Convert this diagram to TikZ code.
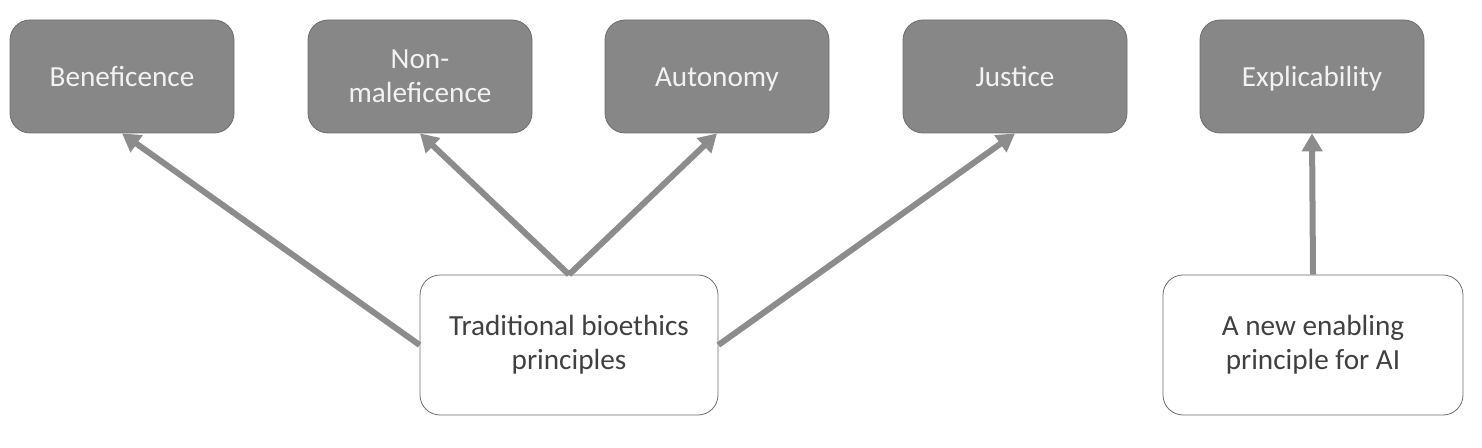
\documentclass[tikz,border=0pt]{standalone}
\usepackage{fontspec}
\setmainfont{Carlito}
\usetikzlibrary{positioning,arrows.meta}
\definecolor{BoxGray}{HTML}{878787}
\definecolor{EdgeGray}{HTML}{6E6E6E}
\definecolor{ArrowGray}{HTML}{8C8C8C}
\definecolor{TextDark}{HTML}{404040}
\definecolor{TextLight}{HTML}{F2F2F2}

\begin{document}
\begin{tikzpicture}[x=0.5pt, y=-0.5pt,
    principle/.style={draw=EdgeGray, fill=BoxGray, rounded corners=10pt, minimum width=112pt, minimum height=56.5pt, text=TextLight, align=center, font=\fontsize{14.6}{17}\selectfont},
    oneline/.style={text height=11.5pt, text depth=1.5pt},
    source/.style={draw=EdgeGray, fill=white, rounded corners=10pt, minimum width=149pt, minimum height=70pt, text=TextDark, align=center, font=\fontsize{14.6}{17}\selectfont},
    link/.style={line width=3pt, ArrowGray, -{Triangle[length=9pt, width=10pt]}}]
    \useasboundingbox (0,0) rectangle (1482,448);
    % top row
    \node[principle, oneline] (benef) at (122,76.5) {Beneficence};
    \node[principle] (nonmal) at (420,76.5) {Non-\\maleficence};
    \node[principle, oneline] (auton) at (717,76.5) {Autonomy};
    \node[principle, oneline] (justice) at (1015,76.5) {Justice};
    \node[principle, oneline] (explic) at (1312,76.5) {Explicability};
    % bottom row
    \node[source] (trad) at (569,345) {Traditional bioethics\\principles};
    \node[source, minimum width=150pt] (newai) at (1313,345) {A new enabling\\principle for AI};
    % arrows
    \draw[link] (trad.west) -- (benef.south);
    \draw[link] (trad.north) -- (nonmal.south);
    \draw[link] (trad.north) -- (auton.south);
    \draw[link] (trad.east) -- (justice.south);
    \draw[link] (newai.north) -- (explic.south);
\end{tikzpicture}
\end{document}
